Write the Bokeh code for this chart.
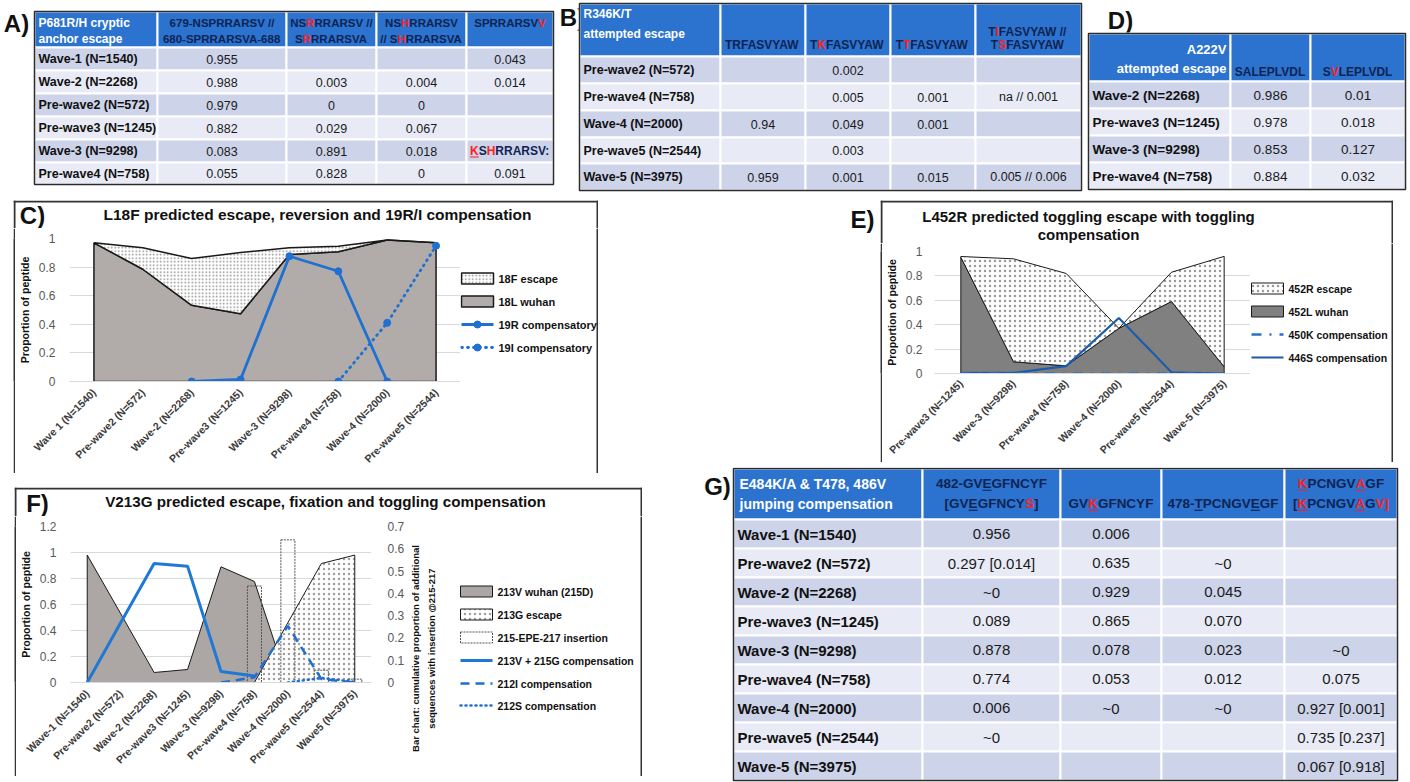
import math
from bokeh.plotting import figure
from bokeh.models import (FactorRange, Range1d, FixedTicker, PrintfTickFormatter,
                          LinearAxis, Spacer)
from bokeh.layouts import row, column
from bokeh.core.properties import value
from bokeh.embed import file_html
from bokeh.resources import INLINE

nan = float("nan")

# ============================ DATA ============================
# Panel A
a_title = ["P681R/H cryptic", "anchor escape"]
a_headers = [["679-NSPRRARSV //", "680-SPRRARSVA-688"],
             ["NS*RRRARSV //", "S*RRRARSVA"],
             ["NS*HRRARSV", "// S*HRRARSVA"],
             ["SPRRARSV*V"]]
a_rows = ["Wave-1 (N=1540)", "Wave-2 (N=2268)", "Pre-wave2 (N=572)",
          "Pre-wave3 (N=1245)", "Wave-3 (N=9298)", "Pre-wave4 (N=758)"]
a_col1 = ["0.955", "0.988", "0.979", "0.882", "0.083", "0.055"]
a_col2 = ["", "0.003", "0", "0.029", "0.891", "0.828"]
a_col3 = ["", "0.004", "0", "0.067", "0.018", "0"]
a_col4 = ["0.043", "0.014", "", "", "*_KS*HRRARSV:", "0.091"]

# Panel B
b_title = ["R346K/T", "attempted escape"]
b_headers = [["TRFASVYAW"], ["T*KFASVYAW"], ["T*TFASVYAW"], ["T*IFASVYAW //", "T*SFASVYAW"]]
b_rows = ["Pre-wave2 (N=572)", "Pre-wave4 (N=758)", "Wave-4 (N=2000)",
          "Pre-wave5 (N=2544)", "Wave-5 (N=3975)"]
b_col1 = ["", "", "0.94", "", "0.959"]
b_col2 = ["0.002", "0.005", "0.049", "0.003", "0.001"]
b_col3 = ["", "0.001", "0.001", "", "0.015"]
b_col4 = ["", "na // 0.001", "", "", "0.005 // 0.006"]

# Panel D
d_title = ["A222V", "attempted escape"]
d_headers = [["SALEPLVDL"], ["S*VLEPLVDL"]]
d_rows = ["Wave-2 (N=2268)", "Pre-wave3 (N=1245)", "Wave-3 (N=9298)", "Pre-wave4 (N=758)"]
d_col1 = ["0.986", "0.978", "0.853", "0.884"]
d_col2 = ["0.01", "0.018", "0.127", "0.032"]

# Panel G
g_title = ["E484K/A & T478, 486V", "jumping compensation"]
g_headers = [["482-GV_EGFNCYF", "[GV_EGFNCY*S]"], ["GV*_KGFNCYF"],
             ["478-_TPCNGV_EGF"], ["*_KPCNGV*_AGF", "[*_KPCNGV*_AG*V*]"]]
g_rows = ["Wave-1 (N=1540)", "Pre-wave2 (N=572)", "Wave-2 (N=2268)", "Pre-wave3 (N=1245)",
          "Wave-3 (N=9298)", "Pre-wave4 (N=758)", "Wave-4 (N=2000)", "Pre-wave5 (N=2544)",
          "Wave-5 (N=3975)"]
g_col1 = ["0.956", "0.297 [0.014]", "~0", "0.089", "0.878", "0.774", "0.006", "~0", ""]
g_col2 = ["0.006", "0.635", "0.929", "0.865", "0.078", "0.053", "~0", "", ""]
g_col3 = ["", "~0", "0.045", "0.070", "0.023", "0.012", "~0", "", ""]
g_col4 = ["", "", "", "", "~0", "0.075", "0.927 [0.001]", "0.735 [0.237]", "0.067 [0.918]"]

# Panel C
c_title = "L18F predicted escape, reversion and 19R/I compensation"
c_cats = ["Wave 1 (N=1540)", "Pre-wave2 (N=572)", "Wave-2 (N=2268)", "Pre-wave3 (N=1245)",
          "Wave-3 (N=9298)", "Pre-wave4 (N=758)", "Wave-4 (N=2000)", "Pre-wave5 (N=2544)"]
c_18L = [0.97, 0.785, 0.533, 0.474, 0.888, 0.907, 0.99, 0.97]
c_18F = [0.0, 0.15, 0.327, 0.428, 0.047, 0.039, 0.0, 0.0]
c_19R = [nan, nan, 0.0, 0.014, 0.876, 0.771, 0.0, nan]
c_19I = [nan, nan, nan, nan, nan, 0.0, 0.41, 0.949]
c_legend = ["18F escape", "18L wuhan", "19R compensatory", "19I compensatory"]

# Panel E
e_title = ["L452R predicted toggling escape with toggling", "compensation"]
e_cats = ["Pre-wave3 (N=1245)", "Wave-3 (N=9298)", "Pre-wave4 (N=758)",
          "Wave-4 (N=2000)", "Pre-wave5 (N=2544)", "Wave-5 (N=3975)"]
e_452L = [0.953, 0.096, 0.063, 0.37, 0.59, 0.055]
e_452R = [0.006, 0.844, 0.757, 0.0, 0.24, 0.905]
e_450K = [0.0, 0.0, 0.0, 0.0, 0.0, 0.0]
e_446S = [0.005, 0.005, 0.06, 0.455, 0.01, 0.0]
e_legend = ["452R escape", "452L wuhan", "450K compensation", "446S compensation"]

# Panel F
f_title = "V213G predicted escape, fixation and toggling compensation"
f_cats = ["Wave-1 (N=1540)", "Pre-wave2 (N=572)", "Wave-2 (N=2268)", "Pre-wave3 (N=1245)",
          "Wave-3 (N=9298)", "Pre-wave4 (N=758)", "Wave-4 (N=2000)", "Pre-wave5 (N=2544)",
          "Wave5 (N=3975)"]
f_213V = [0.98, 0.53, 0.077, 0.10, 0.89, 0.777, 0.0, 0.0, 0.0]
f_213G = [0.0, 0.0, 0.0, 0.0, 0.0, 0.0, 0.46, 0.915, 0.98]
f_ins = [0.0, 0.0, 0.0, 0.0, 0.0, 0.433, 0.64, 0.055, 0.015]
f_215G = [0.0, 0.46, 0.915, 0.895, 0.085, 0.05, nan, nan, nan]
f_212I = [nan, nan, nan, nan, 0.0, 0.04, 0.436, 0.026, 0.0]
f_212S = [nan, nan, nan, nan, nan, nan, 0.0, 0.035, 0.005]
f_right_title = ["Bar chart: cumulative proportion of additional",
                 "sequences with insertion @215-217"]
f_legend = ["213V wuhan (215D)", "213G escape", "215-EPE-217 insertion",
            "213V + 215G compensation", "212I compensation", "212S compensation"]

# ============================ STYLE ============================
FONT = "Liberation Sans"
NAVY = "#0f2352"
RED = "#ff1f1f"
BLUE_HDR = "#2b73cf"
ROW_DARK = "#cdd3e9"
ROW_LIGHT = "#e8ebf5"
EDGE = "#333333"

W_BOLD = {}
for ch, w in zip("ABCDEFGHIJKLMNOPQRSTUVWXYZ",
                 [722, 722, 722, 722, 667, 611, 778, 722, 278, 556, 722, 611, 833,
                  722, 778, 667, 778, 722, 667, 611, 722, 667, 944, 667, 667, 611]):
    W_BOLD[ch] = w
for d in "0123456789":
    W_BOLD[d] = 556
W_BOLD.update({"-": 333, "/": 278, " ": 278, "[": 333, "]": 333, ":": 333, ".": 278})

# glyph styles (shared by chart glyphs and legend swatches)
ST_C18L = dict(fill_color="#b1aca9", line_color="#1a1a1a", line_width=1.5)
ST_C18F = dict(fill_color="white", hatch_pattern="dot", hatch_scale=3.5, hatch_weight=0.8,
               hatch_color="#8c8c8c", line_color="#1a1a1a", line_width=1.5)
ST_C19R = dict(line_color="#1f70d0", line_width=2.8)
ST_C19I = dict(line_color="#1f70d0", line_width=2.8, line_dash="1 5", line_cap="round")
ST_E452L = dict(fill_color="#808080", line_color="#1a1a1a", line_width=1)
ST_E452R = dict(fill_color="white", hatch_pattern="dot", hatch_scale=5, hatch_weight=0.8,
                hatch_color="#9a9a9a", line_color="#1a1a1a", line_width=1)
ST_E450 = dict(line_color="#2a72c8", line_width=2.5, line_dash="10 8 2 8")
ST_E446 = dict(line_color="#1d5bab", line_width=2.2)
ST_F213V = dict(fill_color="#aca7a4", line_color="#1a1a1a", line_width=1)
ST_F213G = dict(fill_color="white", hatch_pattern="dot", hatch_scale=5, hatch_weight=0.8,
                hatch_color="#a0a0a0", line_color="#1a1a1a", line_width=1)
ST_FINS = dict(fill_alpha=0, line_color="#555555", line_dash="2 1", line_width=1)
ST_F215 = dict(line_color="#1f78d4", line_width=3)
ST_F212I = dict(line_color="#1f6fd0", line_width=2.5, line_dash="9 6")
ST_F212S = dict(line_color="#1f6fd0", line_width=2.5, line_dash="1 4", line_cap="round")


def add_text(p, x, y, s, size, bold=False, color="#111111", align="center", angle=0.0):
    p.text(x=[x], y=[y], text=[s], text_color=color, text_font=value(FONT),
           text_font_size=f"{size}px", text_font_style="bold" if bold else "normal",
           text_align=align, text_baseline="middle", angle=angle)


def parse_markup(s):
    out, red, ul = [], False, False
    for ch in s:
        if ch == "*":
            red = True
            continue
        if ch == "_":
            ul = True
            continue
        out.append((ch, red, ul))
        red = ul = False
    return out


def rich_text(p, x, y, s, size, align="center", base=NAVY):
    chars = parse_markup(s)
    widths = [W_BOLD.get(c, 600) * size / 1000.0 for c, _, _ in chars]
    total = sum(widths)
    x0 = x - total / 2 if align == "center" else (x if align == "left" else x - total)
    segs, pos = [], x0
    for (c, r, u), w in zip(chars, widths):
        if segs and segs[-1][0] == (r, u):
            segs[-1][1] += c
            segs[-1][3] += w
        else:
            segs.append([(r, u), c, pos, w])
        pos += w
    for (r, u), txt, sx, w in segs:
        col = RED if r else base
        add_text(p, sx, y, txt, size, bold=True, color=col, align="left")
        if u:
            p.segment(x0=[sx], y0=[y + 0.5 * size], x1=[sx + w], y1=[y + 0.5 * size],
                      line_color=col, line_width=1.2)


def canvas(x0, x1, y0, y1):
    p = figure(width=int(x1 - x0), height=int(y1 - y0), x_range=Range1d(x0, x1),
               y_range=Range1d(y1, y0), output_backend="svg", toolbar_location=None,
               x_axis_type=None, y_axis_type=None, min_border=0, title=None,
               outline_line_color=None)
    return p


def strip(w, h):
    p = figure(width=w, height=h, output_backend="svg", toolbar_location=None,
               x_axis_type=None, y_axis_type=None, min_border=0, title=None,
               outline_line_color=None, background_fill_color=EDGE, border_fill_color=EDGE)
    return p


def edge(p, x0, y0, x1, y1):
    p.segment(x0=[x0], y0=[y0], x1=[x1], y1=[y1], line_color=EDGE, line_width=2)


def draw_table(p, xe, hdr, re_, title, title_x, title_ys, title_align, title_size,
               headers, hys1, hys2, hsize, rows, cols, lsize, vsize):
    n = len(xe) - 1
    p.quad(left=xe[:-1], right=xe[1:], top=[hdr[0]] * n, bottom=[hdr[1]] * n,
           fill_color=BLUE_HDR, line_color="white", line_width=2)
    L, R, T, B, C = [], [], [], [], []
    for i in range(len(re_) - 1):
        for j in range(n):
            L.append(xe[j]); R.append(xe[j + 1]); T.append(re_[i]); B.append(re_[i + 1])
            C.append(ROW_DARK if i % 2 == 0 else ROW_LIGHT)
    p.quad(left=L, right=R, top=T, bottom=B, fill_color=C, line_color="white", line_width=2)
    p.quad(left=[xe[0]], right=[xe[-1]], top=[hdr[0]], bottom=[re_[-1]],
           fill_color=None, line_color="#2b2b2b", line_width=1.5)
    for t, ty in zip(title, title_ys):
        add_text(p, title_x, ty, t, title_size, bold=True, color="white", align=title_align)
    for j, lines in enumerate(headers):
        cx = (xe[j + 1] + xe[j + 2]) / 2
        ys = hys1 if len(lines) == 1 else hys2
        for s, yy in zip(lines, ys):
            rich_text(p, cx, yy, s, hsize)
    for i, lab in enumerate(rows):
        cy = (re_[i] + re_[i + 1]) / 2
        add_text(p, xe[0] + 4, cy, lab, lsize, bold=True, color="#111111", align="left")
        for j, col in enumerate(cols):
            v = col[i]
            if not v:
                continue
            cx = (xe[j + 1] + xe[j + 2]) / 2
            if "*" in v or "_" in v:
                rich_text(p, cx, cy, v, lsize - 0.5)
            else:
                add_text(p, cx, cy, v, vsize, color="#1a1a1a")


def draw_legend(p, x, ys, items, size):
    for (kind, lab, st), cy in zip(items, ys):
        if kind == "area":
            p.quad(left=[x], right=[x + 32], top=[cy - 5.5], bottom=[cy + 5.5], **st)
        elif kind in ("line", "linemark"):
            p.segment(x0=[x], y0=[cy], x1=[x + 32], y1=[cy], **st)
            if kind == "linemark":
                p.scatter([x + 16], [cy], size=7, color=st["line_color"])
        add_text(p, x + 37, cy, lab, size, bold=True, color="#111111", align="left")


# ============================ TOP TABLES ============================
pt = canvas(0, 1410, 0, 200)
add_text(pt, 16, 23, "A)", 24, bold=True, color="#111111")
add_text(pt, 572, 17, "B)", 24, bold=True, color="#111111")
add_text(pt, 1120, 20, "D)", 24, bold=True, color="#111111")
draw_table(pt, [34, 157, 286, 376, 466, 553], (11, 47), [47, 70, 93, 116, 139, 162, 184],
           a_title, 38, [22, 38], "left", 12, a_headers, [22], [22, 38], 11.5,
           a_rows, [a_col1, a_col2, a_col3, a_col4], 12.5, 12.5)
draw_table(pt, [579, 720, 805, 890, 975, 1081], (3, 56), [56, 83, 110, 137, 163, 190],
           b_title, 583, [13, 33], "left", 12, b_headers, [44], [31, 44], 12,
           b_rows, [b_col1, b_col2, b_col3, b_col4], 12.5, 12.5)
draw_table(pt, [1088, 1230, 1310, 1405], (33, 81), [81, 108, 135, 162, 189],
           d_title, 1226, [49, 68], "right", 13, d_headers, [71], [60, 71], 12,
           d_rows, [d_col1, d_col2], 13.5, 13.5)

# ============================ G TABLE ============================
pg = canvas(700, 1410, 467, 782)
add_text(pg, 717, 486, "G)", 24, bold=True, color="#111111")
draw_table(pg, [733, 922, 1060, 1161, 1284, 1397], (468, 519), [519 + 29 * i for i in range(10)],
           g_title, 739, [483, 503], "left", 14, g_headers, [503], [483, 503], 13.5,
           g_rows, [g_col1, g_col2, g_col3, g_col4], 15, 15)

# ============================ E LABEL ============================
pel = canvas(700, 880, 200, 464)
add_text(pel, 862, 219, "E)", 24, bold=True, color="#111111")


# ============================ CHARTS ============================
def chart(cats, width, height, ml, mr, mt, mb, ymax, yticks, lstand=8, xstand=3):
    p = figure(width=width, height=height, x_range=FactorRange(*cats),
               y_range=Range1d(0, ymax), output_backend="svg", toolbar_location=None,
               title=None, min_border_left=ml, min_border_right=mr, min_border_top=mt,
               min_border_bottom=mb)
    p.outline_line_color = None
    p.xgrid.grid_line_color = None
    p.ygrid.grid_line_color = "#d9d9d9"
    p.ygrid.ticker = FixedTicker(ticks=yticks)
    xa = p.xaxis[0]
    xa.axis_line_color = "#d9d9d9"
    xa.major_tick_line_color = None
    xa.minor_tick_line_color = None
    xa.major_label_orientation = math.pi / 4
    xa.major_label_text_font = FONT
    xa.major_label_text_font_size = "10.5px"
    xa.major_label_text_font_style = "bold"
    xa.major_label_text_color = "#3a3a3a"
    xa.major_label_standoff = xstand
    ya = p.yaxis[0]
    ya.ticker = FixedTicker(ticks=yticks)
    ya.formatter = PrintfTickFormatter(format="%g")
    ya.axis_line_color = None
    ya.major_tick_line_color = None
    ya.minor_tick_line_color = None
    ya.major_label_text_font = FONT
    ya.major_label_text_font_size = "12px"
    ya.major_label_text_color = "#595959"
    ya.major_label_standoff = lstand
    ya.axis_label = "Proportion of peptide"
    ya.axis_label_text_font = FONT
    ya.axis_label_text_font_size = "10.5px"
    ya.axis_label_text_font_style = "bold"
    ya.axis_label_text_color = "#111111"
    ya.axis_label_standoff = 5
    return p


# ---- C ----
pc = chart(c_cats, 445, 245, 51, 0, 10, 92, 1.0, [0, 0.2, 0.4, 0.6, 0.8, 1.0])
c_top = [l + f for l, f in zip(c_18L, c_18F)]
pc.patch(c_cats + [c_cats[-1], c_cats[0]], c_18L + [0, 0], **ST_C18L)
pc.patch(c_cats + c_cats[::-1], c_top + c_18L[::-1], **ST_C18F)
pc.line(c_cats, c_19R, **ST_C19R)
pc.scatter(c_cats, c_19R, size=7, color=ST_C19R["line_color"])
pc.line(c_cats, c_19I, **ST_C19I)
pc.scatter(c_cats, c_19I, size=7, color=ST_C19I["line_color"])

c_head = canvas(13, 598, 200, 228)
edge(c_head, 13, 201, 598, 201)
edge(c_head, 14, 200, 14, 228)
edge(c_head, 597, 200, 597, 228)
add_text(c_head, 317, 214, c_title, 15.5, bold=True)
add_text(c_head, 32, 215, "C)", 24, bold=True)
c_leg = canvas(460, 598, 228, 473)
edge(c_leg, 597, 228, 597, 473)
draw_legend(c_leg, 461, [278, 301, 324, 347],
            [("area", c_legend[0], ST_C18F), ("area", c_legend[1], ST_C18L),
             ("linemark", c_legend[2], ST_C19R), ("linemark", c_legend[3], ST_C19I)], 11)
c_panel = column(c_head, row(strip(2, 245), pc, column(c_leg)), strip(585, 2))

# ---- E ----
pe = chart(e_cats, 368, 219, 42, 0, 8, 89, 1.0, [0, 0.2, 0.4, 0.6, 0.8, 1.0], lstand=6, xstand=2)
e_top = [l + r for l, r in zip(e_452L, e_452R)]
pe.patch(e_cats + [e_cats[-1], e_cats[0]], e_452L + [0, 0], **ST_E452L)
pe.patch(e_cats + e_cats[::-1], e_top + e_452L[::-1], **ST_E452R)
pe.line(e_cats, e_446S, **ST_E446)
pe.line(e_cats, e_450K, **ST_E450)

e_head = canvas(880, 1393, 200, 243)
edge(e_head, 880, 201, 1393, 201)
edge(e_head, 881, 200, 881, 243)
edge(e_head, 1392, 200, 1392, 243)
add_text(e_head, 1088, 216, e_title[0], 15, bold=True)
add_text(e_head, 1088, 234, e_title[1], 15, bold=True)
e_leg = canvas(1250, 1393, 243, 462)
edge(e_leg, 1392, 243, 1392, 462)
draw_legend(e_leg, 1251, [288, 311, 334, 357],
            [("area", e_legend[0], ST_E452R), ("area", e_legend[1], ST_E452L),
             ("line", e_legend[2], ST_E450), ("line", e_legend[3], ST_E446)], 10.5)
e_panel = column(e_head, row(strip(2, 219), pe, column(e_leg)), strip(513, 2))

# ---- F ----
pf = chart(f_cats, 391, 260, 44, 32, 10, 94, 1.2, [0, 0.2, 0.4, 0.6, 0.8, 1.0, 1.2])
pf.extra_y_ranges = {"right": Range1d(0, 0.7)}
ax_r = LinearAxis(y_range_name="right",
                  ticker=FixedTicker(ticks=[0, 0.1, 0.2, 0.3, 0.4, 0.5, 0.6, 0.7]),
                  formatter=PrintfTickFormatter(format="%g"))
ax_r.axis_line_color = None
ax_r.major_tick_line_color = None
ax_r.minor_tick_line_color = None
ax_r.major_label_text_font = FONT
ax_r.major_label_text_font_size = "12px"
ax_r.major_label_text_color = "#595959"
ax_r.major_label_standoff = 10
pf.add_layout(ax_r, "right")
pf.patch(f_cats + [f_cats[-1], f_cats[0]], f_213V + [0, 0], **ST_F213V)
pf.patch(f_cats + [f_cats[-1], f_cats[0]], f_213G + [0, 0], **ST_F213G)
ins_c = [c for c, v in zip(f_cats, f_ins) if v > 0]
ins_v = [v for v in f_ins if v > 0]
pf.vbar(x=ins_c, top=ins_v, width=0.42, y_range_name="right", **ST_FINS)
pf.line(f_cats, f_215G, **ST_F215)
pf.line(f_cats, f_212I, **ST_F212I)
pf.line(f_cats, f_212S, **ST_F212S)

f_head = canvas(14, 642, 487, 516)
edge(f_head, 14, 488, 642, 488)
edge(f_head, 15, 487, 15, 516)
edge(f_head, 641, 487, 641, 516)
add_text(f_head, 325, 501, f_title, 15.2, bold=True)
add_text(f_head, 37, 503, "F)", 24, bold=True)
f_side = canvas(407, 642, 516, 776)
edge(f_side, 641, 516, 641, 776)
add_text(f_side, 415, 648, f_right_title[0], 9.5, bold=True, angle=math.pi / 2)
add_text(f_side, 431, 648, f_right_title[1], 9.5, bold=True, angle=math.pi / 2)
draw_legend(f_side, 460, [591, 614, 637, 660, 683, 705],
            [("area", f_legend[0], ST_F213V), ("area", f_legend[1], ST_F213G),
             ("area", f_legend[2], ST_FINS), ("line", f_legend[3], ST_F215),
             ("line", f_legend[4], ST_F212I), ("line", f_legend[5], ST_F212S)], 10.5)
f_panel = column(f_head, row(strip(2, 260), pf, column(f_side)), strip(628, 2))

# ============================ LAYOUT ============================
left = column(row(Spacer(width=13, height=275), c_panel, Spacer(width=102, height=275)),
              Spacer(width=700, height=12),
              row(Spacer(width=14, height=291), f_panel, Spacer(width=58, height=291)),
              Spacer(width=700, height=4))
right = column(row(pel, e_panel, Spacer(width=17, height=264)),
               Spacer(width=710, height=3),
               pg)
layout = column(pt, row(left, right))

open("out.html", "w").write(file_html(layout, INLINE))
